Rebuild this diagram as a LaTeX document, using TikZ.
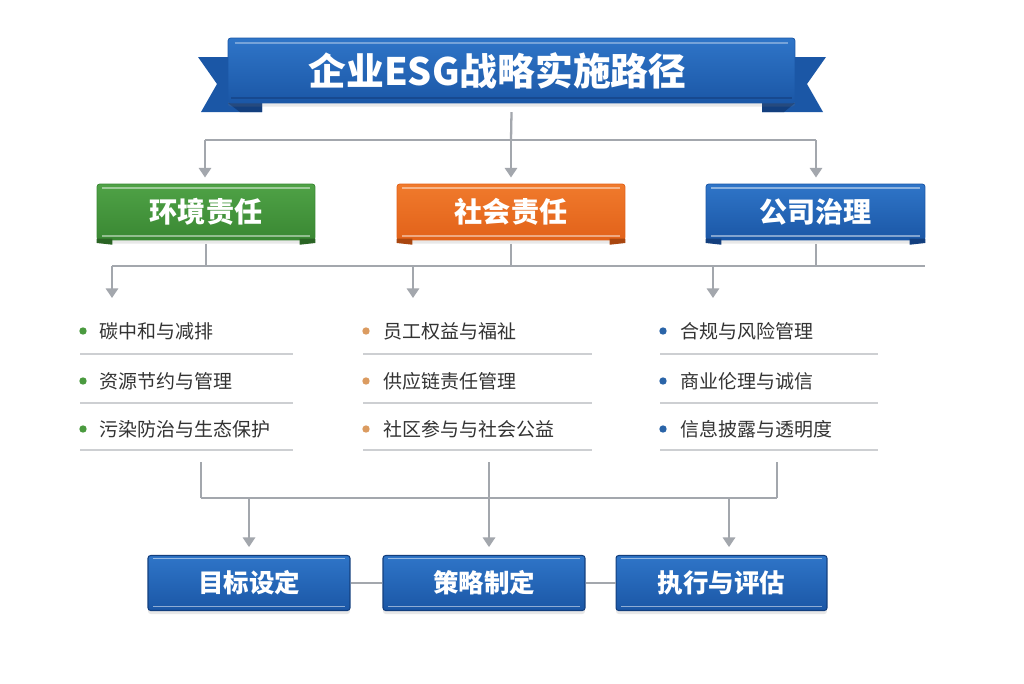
\documentclass[tikz,border=0pt]{standalone}
\usepackage{fontspec}
\newfontfamily\cjk{Noto Sans CJK SC}
\usetikzlibrary{arrows.meta,shadows}
\definecolor{linegray}{HTML}{A3A7AD}
\definecolor{sepgray}{HTML}{CDCFD2}
\definecolor{txt}{HTML}{333333}
\definecolor{bluetop}{HTML}{2F75C8}
\definecolor{bluebot}{HTML}{1B57A6}
\definecolor{bluedark}{HTML}{133F7E}
\definecolor{greentop}{HTML}{4FA246}
\definecolor{greenbot}{HTML}{3A8833}
\definecolor{greendark}{HTML}{2A6424}
\definecolor{orangetop}{HTML}{F07A2C}
\definecolor{orangebot}{HTML}{E2621A}
\definecolor{orangedark}{HTML}{A9460F}
\definecolor{bgreen}{HTML}{4A9A3F}
\definecolor{borange}{HTML}{DB9B60}
\definecolor{bblue}{HTML}{2A64A8}
\tikzset{
  conn/.style={draw=linegray, line width=1.3pt},
  arr/.style={conn, -{Triangle[width=7pt,length=5.5pt]}},
  ribbon/.style={rectangle, rounded corners=1.5pt, text=white, font=\cjk\bfseries,
    drop shadow={opacity=0.18, shadow xshift=0pt, shadow yshift=-2pt}},
  titlebox/.style={ribbon, top color=bluetop, bottom color=bluebot, draw=bluebot,
    minimum width=11.34cm, minimum height=1.3cm, font=\cjk\bfseries\fontsize{21.5}{24}\selectfont},
  headbox/.style={ribbon, minimum height=1.12cm, font=\cjk\bfseries\fontsize{16}{18}\selectfont},
  stepbox/.style={ribbon, top color=bluetop, bottom color=bluebot, draw=bluedark, line width=0.6pt,
    minimum height=1.1cm, font=\cjk\bfseries\fontsize{14.5}{16}\selectfont},
  item/.style={anchor=west, inner sep=0pt, text=txt, font=\cjk\fontsize{10.8}{12}\selectfont},
  dot/.style={circle, inner sep=0pt, minimum size=4.2pt},
  sep/.style={draw=sepgray, line width=0.8pt},
}
\begin{document}
\begin{tikzpicture}[x=0.02cm,y=-0.02cm]
\useasboundingbox (0,0) rectangle (1024,683);
\fill[white] (0,0) rectangle (1024,683);

% ---- title ribbon tails ----
\fill[bluebot] (198,57) -- (262,57) -- (262,112) -- (201,112) -- (217,84) -- cycle;
\fill[bluebot] (826,57) -- (762,57) -- (762,112) -- (823,112) -- (807,84) -- cycle;
\fill[bluedark] (228,103) -- (262,103) -- (262,112) -- (240,112) -- cycle;
\fill[bluedark] (795,103) -- (762,103) -- (762,112) -- (784,112) -- cycle;
\node[titlebox] (title) at (511.5,70.5) {\hspace*{-0.56cm}企业ESG战略实施路径};
\draw[white, opacity=0.35, line width=0.8pt] ([xshift=4pt,yshift=-3pt]title.north west) -- ([xshift=-4pt,yshift=-3pt]title.north east);
\draw[bluedark, opacity=0.6, line width=0.8pt] ([xshift=2pt,yshift=3pt]title.south west) -- ([xshift=-2pt,yshift=3pt]title.south east);

% ---- category headers ----
\node[headbox, top color=greentop, bottom color=greenbot, draw=greenbot, minimum width=4.36cm] (env) at (206,212) {环境责任};
\node[headbox, top color=orangetop, bottom color=orangebot, draw=orangebot, minimum width=4.56cm] (soc) at (511,212) {社会责任};
\node[headbox, top color=bluetop, bottom color=bluebot, draw=bluebot, minimum width=4.38cm] (gov) at (815.5,212) {公司治理};
\foreach \n/\c in {env/greendark, soc/orangedark, gov/bluedark}{
  \draw[white, opacity=0.45, line width=0.7pt] ([xshift=3pt,yshift=-2.5pt]\n.north west) -- ([xshift=-3pt,yshift=-2.5pt]\n.north east);
  \draw[white, opacity=0.45, line width=0.7pt] ([xshift=3pt,yshift=2.5pt]\n.south west) -- ([xshift=-3pt,yshift=2.5pt]\n.south east);
  \fill[\c] ([yshift=1pt]\n.south west) -- ([xshift=9pt,yshift=1pt]\n.south west) -- ([xshift=9pt,yshift=-2.5pt]\n.south west) -- ([yshift=-1.5pt]\n.south west) -- cycle;
  \fill[\c] ([yshift=1pt]\n.south east) -- ([xshift=-9pt,yshift=1pt]\n.south east) -- ([xshift=-9pt,yshift=-2.5pt]\n.south east) -- ([yshift=-1.5pt]\n.south east) -- cycle;
}

% ---- top connectors ----
\coordinate (tj) at (511,140);
\coordinate (tjL) at (205,140);
\coordinate (tjR) at (816,140);
\draw[conn] ([yshift=-5pt]title.south) -- (tj);
\draw[conn] (tjL) -- (tjR);
\draw[arr] (tjL) -- ([yshift=3.5pt]env.north -| tjL);
\draw[arr] (tj) -- ([yshift=3.5pt]soc.north -| tj);
\draw[arr] (tjR) -- ([yshift=3.5pt]gov.north -| tjR);

% ---- middle connectors ----
\coordinate (mL) at (112,266);
\coordinate (mR) at (925,266);
\coordinate (m1) at (206,266);
\coordinate (m2) at (511,266);
\coordinate (m3) at (816,266);
\coordinate (a1) at (112,298);
\coordinate (a2) at (413,298);
\coordinate (a3) at (713,298);
\draw[conn] ([yshift=-2pt]env.south) -- (m1);
\draw[conn] ([yshift=-2pt]soc.south) -- (m2);
\draw[conn] ([yshift=-2pt]gov.south -| m3) -- (m3);
\draw[conn] (mL) -- (mR);
\draw[arr] (mL) -- (a1);
\draw[arr] (mL -| a2) -- (a2);
\draw[arr] (mL -| a3) -- (a3);

% ---- lists ----
\foreach \x/\c/\w [count=\k] in {83/bgreen/213, 366/borange/229, 663/bblue/218}{
  \foreach \y in {331,381,429}{
    \node[dot, fill=\c] at (\x,\y) {};
  }
  \foreach \y in {354,403,450}{
    \draw[sep] (\x-3,\y) -- ++(\w,0);
  }
}
\node[item] (e1) at (99,331) {碳中和与减排};
\node[item] (e2) at (99,381) {资源节约与管理};
\node[item] (e3) at (99,429) {污染防治与生态保护};
\node[item] (s1) at (383,331) {员工权益与福祉};
\node[item] (s2) at (383,381) {供应链责任管理};
\node[item] (s3) at (383,429) {社区参与与社会公益};
\node[item] (g1) at (680,331) {合规与风险管理};
\node[item] (g2) at (680,381) {商业伦理与诚信};
\node[item] (g3) at (680,429) {信息披露与透明度};

% ---- bottom steps ----
\node[stepbox, minimum width=4.04cm] (b1) at (249,583) {目标设定};
\node[stepbox, minimum width=4.04cm] (b2) at (484,583) {策略制定};
\node[stepbox, minimum width=4.22cm] (b3) at (721.5,583) {执行与评估};
\foreach \n in {b1,b2,b3}{
  \draw[white, opacity=0.5, line width=0.7pt] ([xshift=3pt,yshift=-2pt]\n.north west) -- ([xshift=-3pt,yshift=-2pt]\n.north east);
  \draw[white, opacity=0.5, line width=0.7pt] ([xshift=3pt,yshift=2.5pt]\n.south west) -- ([xshift=-3pt,yshift=2.5pt]\n.south east);
}
\draw[conn] (b1.east) -- (b2.west);
\draw[conn] (b2.east) -- (b3.west);

\coordinate (c1) at (201,462);
\coordinate (c2) at (489,462);
\coordinate (c3) at (777,462);
\coordinate (bj1) at (201,498);
\coordinate (bj3) at (777,498);
\draw[conn] (c1) -- (bj1);
\draw[conn] (c2) -- (c2 |- bj1);
\draw[conn] (c3) -- (bj3);
\draw[conn] (bj1) -- (bj3);
\draw[arr] (bj1 -| b1.north) -- ([yshift=4.5pt]b1.north);
\draw[arr] (bj1 -| c2) -- ([yshift=4.5pt]b2.north -| c2);
\coordinate (b3x) at (729,498);
\draw[arr] (b3x) -- ([yshift=4.5pt]b3.north -| b3x);
\end{tikzpicture}
\end{document}
